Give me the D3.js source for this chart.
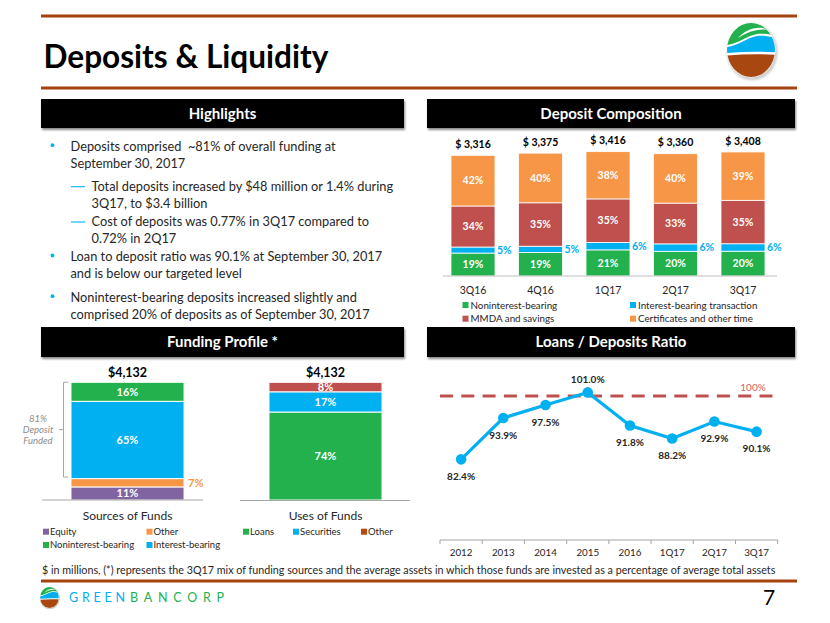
<!DOCTYPE html>
<html><head><meta charset="utf-8">
<script src="https://cdn.jsdelivr.net/npm/d3@7"></script>
<style>html,body{margin:0;padding:0;background:#fff;} svg{display:block;font-family:Lato,'Open Sans',sans-serif;} text{white-space:pre;}</style>
</head><body>
<svg id="c" width="830" height="623"></svg>
<script>
// ---------------- DATA ----------------
const quarters = ['3Q16','4Q16','1Q17','2Q17','3Q17'];
const depositTotals = [3316,3375,3416,3360,3408];
const nonInterestPct = [19,19,21,20,20];
const interestTxnPct = [5,5,6,6,6];
const mmdaPct = [34,35,35,33,35];
const certificatesPct = [42,40,38,40,39];
const depositSeries = ['Noninterest-bearing','Interest-bearing transaction','MMDA and savings','Certificates and other time'];

const fundingTotal = 4132;
const fundingGroups = ['Sources of Funds','Uses of Funds'];
const sourcesLabels = ['Equity','Other','Noninterest-bearing','Interest-bearing'];
const sourcesPct = [11,7,16,65];
const sourcesStackOrder = ['Equity','Other','Interest-bearing','Noninterest-bearing'];
const usesLabels = ['Loans','Securities','Other'];
const usesPct = [74,17,8];
const depositFundedPct = 81;

const ratioPeriods = ['2012','2013','2014','2015','2016','1Q17','2Q17','3Q17'];
const ratioValues = [82.4,93.9,97.5,101.0,91.8,88.2,92.9,90.1];
const ratioTarget = 100;

const titleText = 'Deposits & Liquidity';
const highlightItems = [
  {kind:'bullet', lines:['Deposits comprised  ~81% of overall funding at','September 30, 2017']},
  {kind:'dash', lines:['Total deposits increased by $48 million or 1.4% during','3Q17, to $3.4 billion']},
  {kind:'dash', lines:['Cost of deposits was 0.77% in 3Q17 compared to','0.72% in 2Q17']},
  {kind:'bullet', lines:['Loan to deposit ratio was 90.1% at September 30, 2017','and is below our targeted level']},
  {kind:'bullet', lines:['Noninterest-bearing deposits increased slightly and','comprised 20% of deposits as of September 30, 2017']}
];
const footnote = '$ in millions, (*) represents the 3Q17 mix of funding sources and the average assets in which those funds are invested as a percentage of average total assets';
const pageNumber = '7';

// ---------------- STYLE ----------------
const GREEN='#22b14c', BLUE='#00b0f0', RED='#c0504d', ORANGE='#f79646', PURPLE='#8064a2', BROWN='#a3420e';
const TXT='#262626';
const depColor = {'Noninterest-bearing':GREEN,'Interest-bearing transaction':BLUE,'MMDA and savings':RED,'Certificates and other time':ORANGE};
const srcColor = {'Equity':PURPLE,'Other':ORANGE,'Noninterest-bearing':GREEN,'Interest-bearing':BLUE};
const useColor = {'Loans':GREEN,'Securities':BLUE,'Other':RED};
const useLegendColor = {'Loans':GREEN,'Securities':BLUE,'Other':'#b5490f'};

const svg = d3.select('#c');
svg.append('rect').attr('width',830).attr('height',623).attr('fill','#fff');
const defs = svg.append('defs');
defs.append('filter').attr('id','sh').attr('x','-5%').attr('y','-30%').attr('width','110%').attr('height','160%')
  .append('feGaussianBlur').attr('stdDeviation',1.2);

function fitWidth(sel, w){
  const m = sel.node().getComputedTextLength();
  const fs = parseFloat(sel.attr('font-size'));
  sel.attr('font-size', fs*w/m);
  return fs*w/m;
}

// ---------------- FRAME ----------------
[16, 88, 581].forEach(y => svg.append('rect').attr('x',41).attr('y',y-1.5).attr('width',756).attr('height',3).attr('fill',BROWN));

const title = svg.append('text').attr('x',43.5).attr('y',67.5).attr('font-size',34).attr('font-weight',700)
  .attr('fill','#000').text(titleText);
fitWidth(title, 285);

function logo(cx, cy, s, id){
  const g = svg.append('g').attr('transform',`translate(${cx},${cy}) scale(${s})`);
  defs.append('clipPath').attr('id',id).append('ellipse').attr('cx',cx).attr('cy',cy).attr('rx',24*s).attr('ry',27*s);
  g.append('ellipse').attr('cx',1.2).attr('cy',1.8).attr('rx',25.5).attr('ry',28.5).attr('fill','#cfcfcf').attr('filter','url(#sh)');
  g.append('ellipse').attr('rx',24.5).attr('ry',27.5).attr('fill','#fff');
  const c = svg.append('g').attr('clip-path',`url(#${id})`).append('g').attr('transform',`translate(${cx},${cy}) scale(${s})`);
  c.append('path').attr('d','M-30,6 Q0,3 30,5 L30,32 L-30,32 Z').attr('fill','#a8470f');
  c.append('path').attr('d','M-30,-3 C-16,-1 -6,-12 6,-14 C14,-15 22,-13 30,-10 L30,2.5 Q0,0.5 -30,3.5 Z').attr('fill',BLUE);
  c.append('path').attr('d','M-30,-32 L30,-32 L30,-12.5 C22,-15.5 14,-17 6,-16 C-6,-14 -16,-3 -30,-5 Z').attr('fill',GREEN);
  c.append('path').attr('d','M-13,-12 C-5,-21 7,-25 19,-20 C8,-21.5 -2,-19 -13,-12 Z').attr('fill','#fff');
}
logo(751, 50, 1, 'lg1');
logo(49.5, 597.5, 0.39, 'lg2');

svg.append('text').attr('x',69).attr('y',602).attr('font-size',12.5).attr('fill',BLUE)
  .attr('textLength',56).attr('lengthAdjust','spacing').text('GREEN');
svg.append('text').attr('x',130).attr('y',602).attr('font-size',12.5).attr('fill',GREEN)
  .attr('textLength',94).attr('lengthAdjust','spacing').text('BANCORP');
svg.append('text').attr('x',769).attr('y',605).attr('text-anchor','middle').attr('font-size',21).attr('fill','#000').text(pageNumber);

const fn = svg.append('text').attr('x',42).attr('y',573.5).attr('font-size',10.5).attr('fill',TXT).text(footnote);
fitWidth(fn, 734);

// section headers
function header(x0,x1,y0,y1,label){
  svg.append('rect').attr('x',x0+1).attr('y',y0+2).attr('width',x1-x0).attr('height',y1-y0).attr('fill','#888').attr('filter','url(#sh)');
  svg.append('rect').attr('x',x0).attr('y',y0).attr('width',x1-x0).attr('height',y1-y0).attr('fill','#000');
  svg.append('text').attr('x',(x0+x1)/2).attr('y',(y0+y1)/2).attr('dy','0.36em').attr('text-anchor','middle')
    .attr('font-size',15).attr('font-weight',700).attr('fill','#fff').text(label);
}
header(41,404,99,128,'Highlights');
header(427,795,99,128,'Deposit Composition');
header(41,404,327,357,'Funding Profile *');
header(427,795,327,357,'Loans / Deposits Ratio');

// ---------------- HIGHLIGHTS ----------------
const hlTop = [146.7, 186.7, 222, 257, 297.7];
const lineGap = 16.6;
const probe = svg.append('text').attr('font-size',13).text(highlightItems[1].lines[0]);
const hlSize = fitWidth(probe, 302); probe.remove();
highlightItems.forEach((it,i) => {
  const tx = it.kind==='bullet' ? 70.5 : 91.5;
  if(it.kind==='bullet'){
    svg.append('circle').attr('cx',52.5).attr('cy',hlTop[i]-1.5).attr('r',1.9).attr('fill',BLUE);
  } else {
    svg.append('line').attr('x1',71).attr('x2',85).attr('y1',hlTop[i]).attr('y2',hlTop[i]).attr('stroke',BLUE).attr('stroke-width',1.1);
  }
  it.lines.forEach((l,j) => {
    svg.append('text').attr('x',tx).attr('y',hlTop[i]+j*lineGap).attr('dy','0.35em')
      .attr('font-size',hlSize).attr('fill',TXT).text(l);
  });
});

// ---------------- DEPOSIT COMPOSITION ----------------
const dX = d3.scaleBand().domain(quarters).range([439.25,776.75]).paddingInner(0.348).paddingOuter(0.174);
const dY = d3.scaleLinear().domain([0,3500]).range([276,148.6]);
const depG = svg.append('g');
const pctRows = quarters.map((q,i)=>[nonInterestPct[i],interestTxnPct[i],mmdaPct[i],certificatesPct[i]]);
quarters.forEach((q,i)=>{
  const pcts = pctRows[i]; const sum = d3.sum(pcts);
  let cum = 0;
  pcts.forEach((p,k)=>{
    const v0 = depositTotals[i]*cum/sum; cum += p; const v1 = depositTotals[i]*cum/sum;
    const yTop = dY(v1), yBot = dY(v0);
    depG.append('rect').attr('x',dX(q)).attr('width',dX.bandwidth()).attr('y',yTop).attr('height',yBot-yTop)
      .attr('fill',depColor[depositSeries[k]]).attr('stroke','#fff').attr('stroke-width',0.8);
    const outside = (yBot-yTop) < 9;
    depG.append('text').attr('x', outside ? dX(q)+dX.bandwidth()+2 : dX(q)+dX.bandwidth()/2)
      .attr('y',(yTop+yBot)/2).attr('dy','0.36em').attr('text-anchor', outside?'start':'middle')
      .attr('font-size',10.5).attr('font-weight',700).attr('fill', outside?BLUE:'#fff').text(p+'%');
  });
  depG.append('text').attr('x',dX(q)+dX.bandwidth()/2).attr('y',dY(depositTotals[i])-11).attr('dy','0.36em')
    .attr('text-anchor','middle').attr('font-size',10.5).attr('font-weight',700).attr('fill','#000')
    .text('$ '+d3.format(',')(depositTotals[i]));
});
depG.append('line').attr('x1',443).attr('x2',777).attr('y1',276).attr('y2',276).attr('stroke','#bfbfbf').attr('stroke-width',1);
quarters.forEach(q=>{
  depG.append('text').attr('x',dX(q)+dX.bandwidth()/2).attr('y',290).attr('dy','0.36em').attr('text-anchor','middle')
    .attr('font-size',10.5).attr('fill',TXT).text(q);
});
depositSeries.forEach((s,k)=>{
  const col = k%2, row = Math.floor(k/2);
  const lx = col ? 630 : 462.5, ly = row ? 318.7 : 305;
  depG.append('rect').attr('x',lx).attr('y',ly-3).attr('width',6).attr('height',6).attr('fill',depColor[s]);
  depG.append('text').attr('x',lx+8).attr('y',ly).attr('dy','0.36em').attr('font-size',9.8).attr('fill',TXT).text(s);
});

// ---------------- FUNDING PROFILE ----------------
const fX = d3.scaleBand().domain(fundingGroups).range([28.5,424.5]).paddingInner(0.429).paddingOuter(0.2146);
const fY = d3.scaleLinear().domain([0,1]).range([500,382.3]);
const fG = svg.append('g');
function stackBar(group, labels, pcts, colorMap){
  const sum = d3.sum(pcts); let cum = 0; const out = {};
  labels.forEach(lab=>{
    const p = pcts[labels===sourcesStackOrder ? sourcesLabels.indexOf(lab) : usesLabels.indexOf(lab)];
    const f0 = cum/sum; cum += p; const f1 = cum/sum;
    const yTop = fY(f1), yBot = fY(f0);
    out[lab] = [yTop,yBot];
    fG.append('rect').attr('x',fX(group)).attr('width',fX.bandwidth()).attr('y',yTop).attr('height',yBot-yTop)
      .attr('fill',colorMap[lab]).attr('stroke','#fff').attr('stroke-width',1);
    const outside = (yBot-yTop) < 9;
    fG.append('text').attr('x', outside ? fX(group)+fX.bandwidth()+4 : fX(group)+fX.bandwidth()/2)
      .attr('y',(yTop+yBot)/2).attr('dy','0.36em').attr('text-anchor',outside?'start':'middle')
      .attr('font-size',11).attr('font-weight',700).attr('fill',outside?colorMap[lab]:'#fff').text(p+'%');
  });
  fG.append('text').attr('x',fX(group)+fX.bandwidth()/2).attr('y',fY(1)-10).attr('dy','0.36em').attr('text-anchor','middle')
    .attr('font-size',12.5).attr('font-weight',700).attr('fill','#000').text('$'+d3.format(',')(fundingTotal));
  fG.append('text').attr('x',fX(group)+fX.bandwidth()/2).attr('y',515.5).attr('dy','0.36em').attr('text-anchor','middle')
    .attr('font-size',12).attr('fill',TXT).text(group);
  return out;
}
const srcPos = stackBar(fundingGroups[0], sourcesStackOrder, sourcesPct, srcColor);
stackBar(fundingGroups[1], usesLabels, usesPct, useColor);
fG.append('line').attr('x1',42).attr('x2',203).attr('y1',500).attr('y2',500).attr('stroke','#a6a6a6');
fG.append('line').attr('x1',240).attr('x2',410).attr('y1',500.5).attr('y2',500.5).attr('stroke','#a6a6a6');

// deposit-funded bracket
const bTop = srcPos['Noninterest-bearing'][0], bBot = srcPos['Interest-bearing'][1]-1.5, bMid=(bTop+bBot)/2;
fG.append('path').attr('d',`M68,${bTop}H63.5V${bBot}H68M63.5,${bMid}H59`).attr('fill','none').attr('stroke','#a6a6a6').attr('stroke-width',1);
[depositFundedPct+'%','Deposit','Funded'].forEach((t,j)=>{
  fG.append('text').attr('x',38).attr('y',bMid-11+j*11).attr('dy','0.36em').attr('text-anchor','middle')
    .attr('font-size',9.5).attr('font-style','italic').attr('fill','#8c8c8c').text(t);
});
// legends
sourcesLabels.forEach((s,k)=>{
  const lx = (k%2) ? 146.5 : 43, ly = Math.floor(k/2) ? 545 : 531.7;
  fG.append('rect').attr('x',lx).attr('y',ly-3).attr('width',6).attr('height',6).attr('fill',srcColor[s]);
  fG.append('text').attr('x',lx+7).attr('y',ly).attr('dy','0.36em').attr('font-size',9.5).attr('fill',TXT).text(s);
});
const useLX = [243, 293, 361];
usesLabels.forEach((s,k)=>{
  const lx = useLX[k], ly = 531.7;
  fG.append('rect').attr('x',lx).attr('y',ly-3).attr('width',6).attr('height',6).attr('fill',useLegendColor[s]);
  fG.append('text').attr('x',lx+7).attr('y',ly).attr('dy','0.36em').attr('font-size',9.5).attr('fill',TXT).text(s);
});

// ---------------- LOANS / DEPOSITS ----------------
const rX = d3.scaleBand().domain(ratioPeriods).range([440,777.7]);
const rY = d3.scaleLinear().domain([60,110]).range([540,360]);
const rG = svg.append('g');
rG.append('line').attr('x1',440).attr('x2',777.7).attr('y1',540).attr('y2',540).attr('stroke','#a6a6a6');
d3.range(ratioPeriods.length+1).forEach(i=>{
  const x = 440 + i*rX.step();
  rG.append('line').attr('x1',x).attr('x2',x).attr('y1',540).attr('y2',544).attr('stroke','#a6a6a6');
});
ratioPeriods.forEach(p=>{
  rG.append('text').attr('x',rX(p)+rX.bandwidth()/2).attr('y',552.7).attr('dy','0.36em').attr('text-anchor','middle')
    .attr('font-size',9.8).attr('fill',TXT).text(p);
});
rG.append('line').attr('x1',440).attr('x2',777.7).attr('y1',rY(ratioTarget)).attr('y2',rY(ratioTarget))
  .attr('stroke',RED).attr('stroke-width',3).attr('stroke-dasharray','13,8.3');
rG.append('text').attr('x',753).attr('y',rY(ratioTarget)-8.5).attr('dy','0.36em').attr('text-anchor','middle')
  .attr('font-size',10).attr('fill','#d9605c').text(ratioTarget+'%');
const pts = ratioPeriods.map((p,i)=>[rX(p)+rX.bandwidth()/2, rY(ratioValues[i]), ratioValues[i]]);
rG.append('path').attr('d',d3.line()(pts.map(d=>[d[0],d[1]]))).attr('fill','none').attr('stroke',BLUE).attr('stroke-width',3.2);
pts.forEach(d=>{
  rG.append('circle').attr('cx',d[0]).attr('cy',d[1]).attr('r',5.3).attr('fill',BLUE);
  const above = d[2] > ratioTarget;
  rG.append('text').attr('x',d[0]).attr('y', above ? d[1]-13 : d[1]+17).attr('dy','0.36em').attr('text-anchor','middle')
    .attr('font-size',10).attr('font-weight',700).attr('fill',TXT).text(d3.format('.1f')(d[2])+'%');
});
</script>
</body></html>
